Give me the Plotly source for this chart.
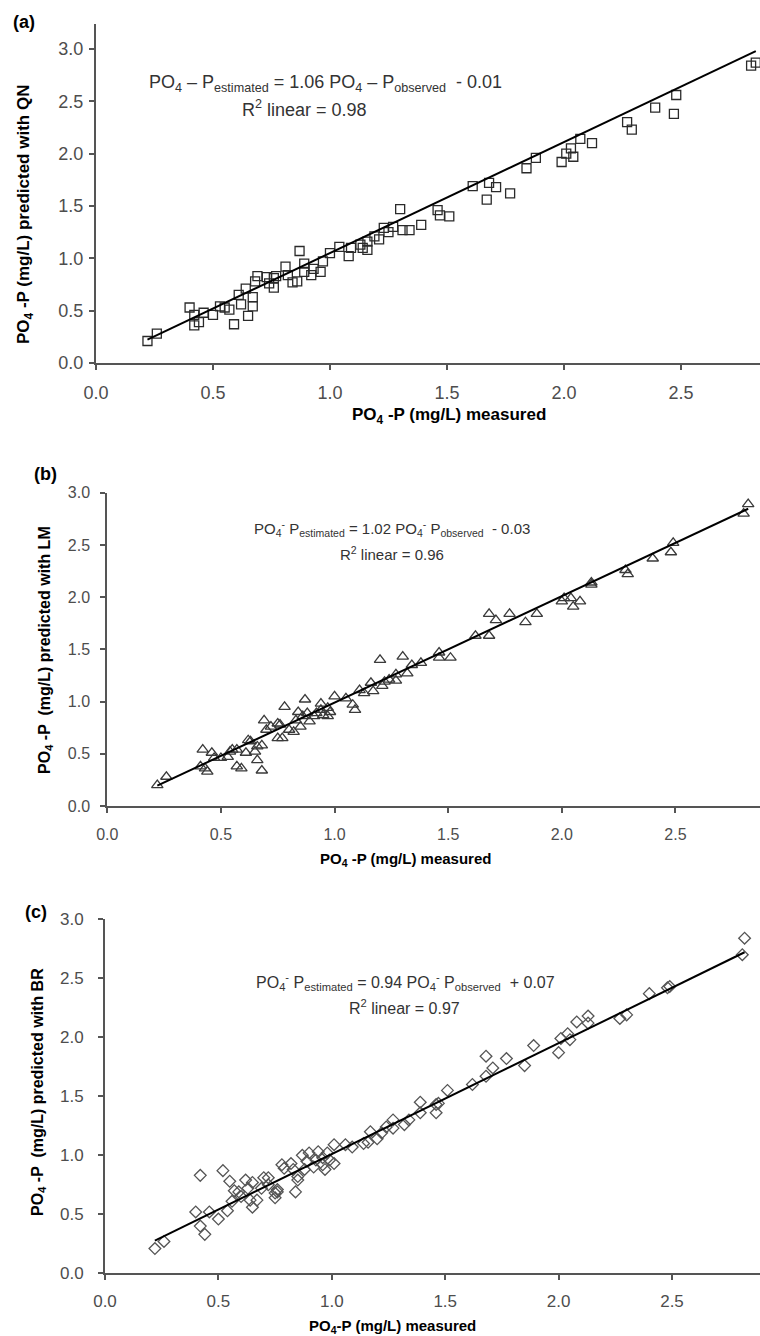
import plotly.graph_objects as go

# ---- data: PO4-P measured vs. predicted (mg/L) ----
qn_measured = [0.22, 0.26, 0.40, 0.42, 0.42, 0.44, 0.46, 0.50, 0.53, 0.55, 0.57, 0.59, 0.61, 0.62, 0.64,
               0.65, 0.67, 0.67, 0.68, 0.69, 0.73, 0.74, 0.76, 0.76, 0.77, 0.81, 0.82, 0.84, 0.87, 0.86,
               0.89, 0.89, 0.92, 0.93, 0.96, 0.97, 1.00, 1.04, 1.08, 1.09, 1.13, 1.14, 1.16, 1.16, 1.19,
               1.21, 1.23, 1.25, 1.27, 1.30, 1.31, 1.34, 1.39, 1.46, 1.47, 1.51, 1.61, 1.67, 1.68, 1.71,
               1.77, 1.84, 1.88, 1.99, 2.01, 2.03, 2.04, 2.07, 2.12, 2.27, 2.29, 2.39, 2.47, 2.48, 2.80, 2.82]
qn_predicted = [0.21, 0.28, 0.53, 0.46, 0.36, 0.39, 0.48, 0.46, 0.54, 0.53, 0.51, 0.37, 0.65, 0.56, 0.71,
                0.45, 0.54, 0.63, 0.78, 0.83, 0.82, 0.76, 0.81, 0.72, 0.83, 0.92, 0.84, 0.77, 1.07, 0.78,
                0.95, 0.87, 0.84, 0.90, 0.87, 0.97, 1.05, 1.11, 1.02, 1.10, 1.13, 1.10, 1.16, 1.08, 1.21,
                1.18, 1.29, 1.25, 1.30, 1.47, 1.27, 1.27, 1.32, 1.46, 1.41, 1.40, 1.69, 1.56, 1.72, 1.68,
                1.62, 1.86, 1.96, 1.92, 2.00, 2.05, 1.97, 2.14, 2.10, 2.30, 2.23, 2.44, 2.38, 2.56, 2.84, 2.87]

lm_measured = [0.22, 0.26, 0.42, 0.41, 0.43, 0.44, 0.46, 0.47, 0.50, 0.53, 0.54, 0.55, 0.57, 0.57, 0.59,
               0.61, 0.62, 0.63, 0.65, 0.66, 0.66, 0.68, 0.68, 0.69, 0.70, 0.72, 0.75, 0.75, 0.77, 0.76,
               0.78, 0.80, 0.82, 0.83, 0.84, 0.85, 0.86, 0.87, 0.88, 0.89, 0.91, 0.92, 0.94, 0.94, 0.95,
               0.97, 0.97, 0.98, 1.00, 1.05, 1.08, 1.09, 1.11, 1.13, 1.16, 1.17, 1.20, 1.21, 1.22, 1.24,
               1.27, 1.27, 1.30, 1.32, 1.34, 1.38, 1.46, 1.46, 1.51, 1.62, 1.68, 1.68, 1.71, 1.77, 1.84,
               1.89, 2.00, 2.01, 2.04, 2.05, 2.08, 2.13, 2.13, 2.28, 2.29, 2.40, 2.48, 2.49, 2.80, 2.82]
lm_predicted = [0.20, 0.28, 0.54, 0.38, 0.36, 0.33, 0.51, 0.46, 0.46, 0.47, 0.52, 0.54, 0.54, 0.38, 0.36,
                0.51, 0.63, 0.62, 0.52, 0.44, 0.57, 0.58, 0.34, 0.82, 0.73, 0.76, 0.79, 0.65, 0.65, 0.78,
                0.95, 0.73, 0.71, 0.82, 0.90, 0.76, 0.86, 1.02, 0.89, 0.81, 0.86, 0.89, 0.92, 0.98, 0.87,
                0.94, 0.86, 0.90, 1.05, 1.03, 0.97, 0.92, 1.11, 1.08, 1.18, 1.10, 1.40, 1.15, 1.19, 1.21,
                1.26, 1.20, 1.43, 1.27, 1.35, 1.37, 1.47, 1.42, 1.42, 1.63, 1.63, 1.84, 1.78, 1.84, 1.76,
                1.84, 1.96, 1.99, 1.99, 1.91, 1.96, 2.14, 2.12, 2.26, 2.22, 2.37, 2.43, 2.52, 2.80, 2.89]

br_measured = [0.22, 0.26, 0.40, 0.42, 0.42, 0.44, 0.46, 0.50, 0.52, 0.55, 0.54, 0.56, 0.57, 0.59, 0.60,
               0.62, 0.63, 0.64, 0.65, 0.65, 0.67, 0.69, 0.70, 0.72, 0.72, 0.75, 0.76, 0.75, 0.76, 0.78,
               0.79, 0.82, 0.83, 0.84, 0.85, 0.85, 0.87, 0.88, 0.89, 0.90, 0.92, 0.93, 0.94, 0.96, 0.96,
               0.97, 0.98, 0.99, 1.01, 1.01, 1.06, 1.09, 1.14, 1.16, 1.17, 1.20, 1.22, 1.24, 1.27, 1.27,
               1.32, 1.34, 1.39, 1.39, 1.46, 1.46, 1.47, 1.51, 1.62, 1.68, 1.68, 1.71, 1.77, 1.85, 1.89,
               2.00, 2.01, 2.04, 2.05, 2.08, 2.13, 2.13, 2.27, 2.30, 2.40, 2.48, 2.49, 2.81, 2.82]
br_predicted = [0.21, 0.27, 0.52, 0.83, 0.40, 0.33, 0.52, 0.46, 0.87, 0.78, 0.53, 0.61, 0.70, 0.69, 0.65,
                0.79, 0.72, 0.62, 0.56, 0.77, 0.62, 0.72, 0.81, 0.81, 0.75, 0.68, 0.69, 0.64, 0.71, 0.92,
                0.89, 0.93, 0.88, 0.69, 0.82, 0.79, 1.00, 0.88, 0.95, 1.02, 0.90, 0.96, 1.03, 0.98, 0.92,
                0.88, 1.02, 0.96, 1.09, 0.93, 1.09, 1.07, 1.10, 1.11, 1.20, 1.14, 1.19, 1.24, 1.23, 1.30,
                1.26, 1.30, 1.45, 1.36, 1.36, 1.43, 1.44, 1.55, 1.60, 1.84, 1.67, 1.74, 1.82, 1.76, 1.93,
                1.87, 1.99, 2.03, 1.98, 2.13, 2.12, 2.18, 2.16, 2.19, 2.37, 2.42, 2.43, 2.70, 2.84]

# regression results per model
fit_slope = [1.06, 1.02, 0.94]
fit_intercept = [-0.01, -0.03, 0.07]
r2_linear = [0.98, 0.96, 0.97]
model_names = ["QN", "LM", "BR"]
panel_letters = ["(a)", "(b)", "(c)"]
y_ticks = [0.0, 0.5, 1.0, 1.5, 2.0, 2.5, 3.0]
x_ticks = [0.0, 0.5, 1.0, 1.5, 2.0, 2.5]

W, H = 760, 1336
FONT = "Arial, 'Liberation Sans', sans-serif"


def px(x):
    return x / W


def py(y):
    return 1 - y / H


series = [(qn_measured, qn_predicted), (lm_measured, lm_predicted), (br_measured, br_predicted)]

# per-panel geometry in page pixels
panels = [
    dict(left=96, y0=363, y1=24, xmax=2.838, ymax=3.238, tick=18, sym="square-open", msize=9,
         mcol="#2a2a2a", title=17, ytitle=17, eq=18, sub_px=(449, 416), ytitle_px=(25, 215),
         eq1=(325, 83), eq2=(304, 108), letter=(24, 22), xstand=7, ystand=2, gap=" "),
    dict(left=107.3, y0=806, y1=492.7, xmax=2.872, ymax=3.0, tick=16, sym="triangle-up-open", msize=10,
         mcol="#3a3a3a", title=15, ytitle=16, eq=15, sub_px=(405, 859), ytitle_px=(46, 650),
         eq1=(392, 528), eq2=(392, 553), letter=(45, 474), xstand=8, ystand=7, gap="  "),
    dict(left=105, y0=1273.3, y1=919.3, xmax=2.888, ymax=3.0, tick=17, sym="diamond-open", msize=9,
         mcol="#555555", title=15, ytitle=16, eq=16, sub_px=(392, 1326), ytitle_px=(38, 1092),
         eq1=(405, 982), eq2=(404, 1007), letter=(36, 912), xstand=6, ystand=11, gap="  "),
]

fig = go.Figure()
annotations = []
layout_axes = {}

for i, ((xm, yp), p) in enumerate(zip(series, panels)):
    n = "" if i == 0 else str(i + 1)
    xa, ya = "x" + n, "y" + n

    fig.add_trace(go.Scatter(
        x=xm, y=yp, mode="markers", xaxis=xa, yaxis=ya, showlegend=False,
        marker=dict(symbol=p["sym"], size=p["msize"], color=p["mcol"],
                    line=dict(width=1.3, color=p["mcol"])),
    ))

    # fitted regression line over the measured range
    x_lo, x_hi = min(xm), max(xm)
    fig.add_trace(go.Scatter(
        x=[x_lo, x_hi],
        y=[fit_slope[i] * x_lo + fit_intercept[i], fit_slope[i] * x_hi + fit_intercept[i]],
        mode="lines", xaxis=xa, yaxis=ya, showlegend=False,
        line=dict(color="#000000", width=2),
    ))

    axis_common = dict(
        showline=True, linecolor="#555555", linewidth=2, ticks="outside", ticklen=5,
        tickwidth=1.5, tickcolor="#555555", showgrid=False, zeroline=False, automargin=False,
        tickfont=dict(family=FONT, size=p["tick"], color="#4d4d4d"), tickformat=".1f",
    )
    layout_axes["xaxis" + n] = dict(
        axis_common, domain=[px(p["left"]), 1.0], range=[0, p["xmax"]],
        tickvals=x_ticks, anchor=ya, ticklabelstandoff=p["xstand"],
    )
    layout_axes["yaxis" + n] = dict(
        axis_common, domain=[py(p["y0"]), py(p["y1"])], range=[0, p["ymax"]],
        tickvals=y_ticks, anchor=xa, ticklabelstandoff=p["ystand"],
    )

    # axis titles
    sub4 = "<sub>4</sub>"
    xtitle = f"<b>PO{sub4} -P (mg/L) measured</b>" if i < 2 else f"<b>PO{sub4}-P (mg/L) measured</b>"
    annotations.append(dict(
        text=xtitle, x=px(p["sub_px"][0]), y=py(p["sub_px"][1]), xref="paper", yref="paper",
        xanchor="center", yanchor="middle", showarrow=False,
        font=dict(family=FONT, size=p["title"], color="#000000"),
    ))
    annotations.append(dict(
        text=f"<b>PO{sub4} -P{p['gap']}(mg/L) predicted with {model_names[i]}</b>",
        x=px(p["ytitle_px"][0]), y=py(p["ytitle_px"][1]), xref="paper", yref="paper",
        xanchor="center", yanchor="middle", showarrow=False, textangle=-90,
        font=dict(family=FONT, size=p["ytitle"], color="#000000"),
    ))

    # panel letter
    annotations.append(dict(
        text=f"<b>{panel_letters[i]}</b>", x=px(p["letter"][0]), y=py(p["letter"][1]),
        xref="paper", yref="paper", xanchor="center", yanchor="middle", showarrow=False,
        font=dict(family=FONT, size=18, color="#000000"),
    ))

    # regression equation and R²
    sign = "-" if fit_intercept[i] < 0 else "+"
    if i == 0:
        eq = (f"PO{sub4} – P<sub>estimated</sub> = {fit_slope[i]:.2f} PO{sub4} – "
              f"P<sub>observed</sub>  {sign} {abs(fit_intercept[i]):.2f}")
    else:
        eq = (f"PO{sub4}<sup>-</sup> P<sub>estimated</sub> = {fit_slope[i]:.2f} PO{sub4}<sup>-</sup> "
              f"P<sub>observed</sub>  {sign} {abs(fit_intercept[i]):.2f}")
    annotations.append(dict(
        text=eq, x=px(p["eq1"][0]), y=py(p["eq1"][1]), xref="paper", yref="paper",
        xanchor="center", yanchor="middle", showarrow=False,
        font=dict(family=FONT, size=p["eq"], color="#333333"),
    ))
    annotations.append(dict(
        text=f"R<sup>2</sup> linear = {r2_linear[i]:.2f}", x=px(p["eq2"][0]), y=py(p["eq2"][1]),
        xref="paper", yref="paper", xanchor="center", yanchor="middle", showarrow=False,
        font=dict(family=FONT, size=p["eq"], color="#333333"),
    ))

fig.update_layout(
    width=W, height=H, margin=dict(l=0, r=0, t=0, b=0, autoexpand=False),
    paper_bgcolor="white", plot_bgcolor="white",
    annotations=annotations, **layout_axes,
)

fig.write_html("out.html")
